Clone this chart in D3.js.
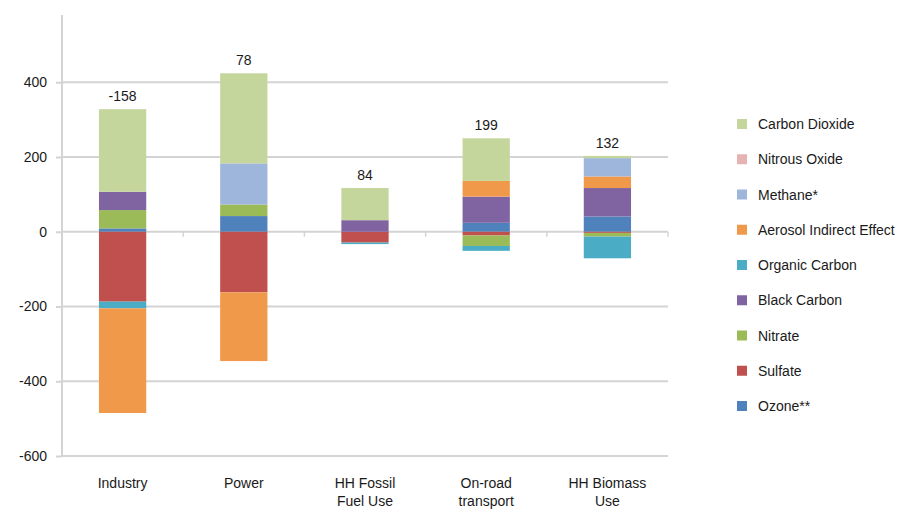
<!DOCTYPE html>
<html>
<head>
<meta charset="utf-8">
<script src="https://cdn.jsdelivr.net/npm/d3@7"></script>
<style>
  html, body { margin: 0; padding: 0; background: #ffffff; }
  svg { display: block; font-family: "Liberation Sans", Arial, sans-serif; }
</style>
</head>
<body>
<svg id="chart" width="902" height="511"></svg>
<script>
// ---- data ----
const categories = ["Industry", "Power", "HH Fossil Fuel Use", "On-road transport", "HH Biomass Use"];
const categoryLines = [["Industry"], ["Power"], ["HH Fossil", "Fuel Use"], ["On-road", "transport"], ["HH Biomass", "Use"]];
const netLabels = ["-158", "78", "84", "199", "132"];

// series in stacking order (bottom first)
const ozone           = [9, 42, 0, 24, 41];
const sulfate         = [-187, -162, -29, -10, -3];
const nitrate         = [49, 31, 0, -28, -10];
const blackCarbon     = [49, 0, 31, 70, 76];
const organicCarbon   = [-18, 0, -4, -13, -58];
const aerosolIndirect = [-280, -184, 0, 42, 31];
const methane         = [0, 110, 0, 0, 49];
const nitrousOxide    = [0, 0, 0, 0, 0];
const carbonDioxide   = [221, 241, 86, 114, 6];

const seriesNames = ["Ozone**", "Sulfate", "Nitrate", "Black Carbon", "Organic Carbon",
                     "Aerosol Indirect Effect", "Methane*", "Nitrous Oxide", "Carbon Dioxide"];
const seriesValues = [ozone, sulfate, nitrate, blackCarbon, organicCarbon,
                      aerosolIndirect, methane, nitrousOxide, carbonDioxide];
const seriesColors = ["#4f81bd", "#c0504d", "#9bbb59", "#8064a2", "#4bacc6",
                      "#f0994a", "#9fb6dc", "#e6b3b2", "#c4d69c"];

const yTicks = [-600, -400, -200, 0, 200, 400];
const yTickLabels = ["-600", "-400", "-200", "0", "200", "400"];

// ---- build table ----
const rows = categories.map((c, i) => {
  const r = { category: c };
  seriesNames.forEach((s, j) => { r[s] = seriesValues[j][i]; });
  return r;
});

const stack = d3.stack().keys(seriesNames).offset(d3.stackOffsetDiverging);
const stacked = stack(rows);

// ---- layout ----
const svg = d3.select("#chart");
const plotLeft = 62, plotRight = 668, plotTop = 15, plotBottom = 456;

const x = d3.scaleBand().domain(categories).range([plotLeft, plotRight])
  .paddingInner(0.61).paddingOuter(0.305);
const y = d3.scaleLinear().domain([-600, 580]).range([plotBottom, plotTop]);

const gridColor = "#d4d4d4";

// gridlines
svg.append("g").selectAll("line").data(yTicks).join("line")
  .attr("x1", plotLeft).attr("x2", plotRight)
  .attr("y1", d => y(d)).attr("y2", d => y(d))
  .attr("stroke", gridColor).attr("stroke-width", 2);

// y axis
const yAxis = svg.append("g").attr("transform", `translate(${plotLeft},0)`)
  .call(d3.axisLeft(y).tickValues(yTicks).tickSize(6).tickPadding(9)
    .tickFormat((d, i) => yTickLabels[i]));
yAxis.select(".domain").remove();
yAxis.selectAll(".tick line").attr("stroke", gridColor).attr("stroke-width", 2);
yAxis.selectAll(".tick text").attr("fill", "#1a1a1a").style("font-size", "14px")
  .style("font-family", "'Liberation Sans', Arial, sans-serif");
svg.append("line").attr("x1", plotLeft).attr("x2", plotLeft)
  .attr("y1", plotTop).attr("y2", plotBottom)
  .attr("stroke", gridColor).attr("stroke-width", 2);

// category boundary ticks on zero line
const boundaries = categories.map(c => x(c) - x.step() * x.paddingInner() / 2 + x.step());
svg.append("g").selectAll("line").data(boundaries).join("line")
  .attr("x1", d => d).attr("x2", d => d)
  .attr("y1", y(0)).attr("y2", y(0) + 5)
  .attr("stroke", gridColor).attr("stroke-width", 1.5);

// bars
svg.append("g").selectAll("g").data(stacked).join("g")
  .attr("fill", (d, i) => seriesColors[i])
  .selectAll("rect").data(d => d).join("rect")
  .attr("x", d => x(d.data.category))
  .attr("width", x.bandwidth())
  .attr("y", d => y(Math.max(d[0], d[1])))
  .attr("height", d => Math.abs(y(d[0]) - y(d[1])));

// net labels above bars
const tops = categories.map((c, i) => d3.sum(seriesValues, s => Math.max(0, s[i])));
svg.append("g").selectAll("text").data(categories).join("text")
  .attr("x", d => x(d) + x.bandwidth() / 2)
  .attr("y", (d, i) => y(tops[i]) - 8)
  .attr("text-anchor", "middle")
  .attr("fill", "#1a1a1a")
  .style("font-size", "14px")
  .text((d, i) => netLabels[i]);

// category labels
const catG = svg.append("g").selectAll("text").data(categories).join("text")
  .attr("x", d => x(d) + x.bandwidth() / 2)
  .attr("y", 488)
  .attr("text-anchor", "middle")
  .attr("fill", "#1a1a1a")
  .style("font-size", "14px");
catG.each(function(d, i) {
  d3.select(this).selectAll("tspan").data(categoryLines[i]).join("tspan")
    .attr("x", x(d) + x.bandwidth() / 2)
    .attr("dy", (t, k) => k === 0 ? 0 : 18)
    .text(t => t);
});

// legend (reverse order, top = last series)
const legendOrder = seriesNames.map((n, i) => i).reverse();
const legendY = d3.scalePoint().domain(legendOrder).range([124, 406]);
const lg = svg.append("g").selectAll("g").data(legendOrder).join("g")
  .attr("transform", d => `translate(737,${legendY(d)})`);
lg.append("rect").attr("x", 0).attr("y", -5).attr("width", 10).attr("height", 10)
  .attr("fill", d => seriesColors[d]);
lg.append("text").attr("x", 21).attr("y", 5)
  .attr("fill", "#1a1a1a").style("font-size", "14px")
  .text(d => seriesNames[d]);
</script>
</body>
</html>
